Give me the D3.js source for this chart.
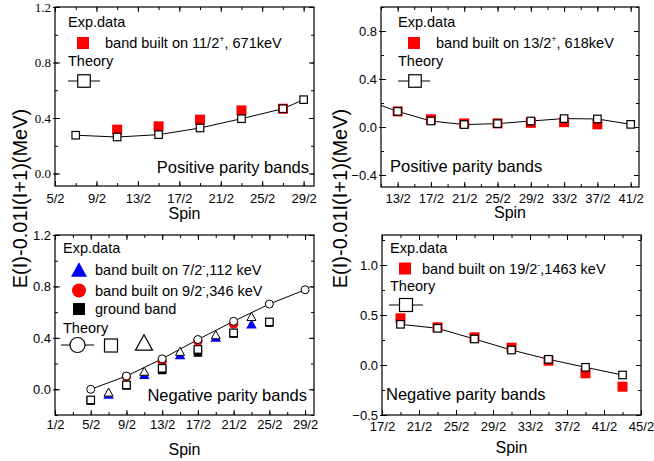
<!DOCTYPE html>
<html>
<head>
<meta charset="utf-8">
<script src="https://cdn.jsdelivr.net/npm/d3@7/dist/d3.min.js"></script>
<style>
body { margin: 0; background: #fff; }
</style>
</head>
<body>
<div id="chart"></div>
<script>
// ---- panel 1 : positive parity, band on 11/2+
var p1TheorySpin = [3.5, 5.5, 7.5, 9.5, 11.5, 13.5, 14.5];
var p1TheoryE = [0.276, 0.263, 0.28, 0.328, 0.395, 0.467, 0.532];
var p1ExpSpin = [5.5, 7.5, 9.5, 11.5, 13.5];
var p1ExpE = [0.316, 0.34, 0.388, 0.455, 0.467];
var p1XTicks = [2.5, 4.5, 6.5, 8.5, 10.5, 12.5, 14.5];
var p1YTicks = [0, 0.4, 0.8, 1.2];

// ---- panel 2 : positive parity, band on 13/2+
var p2TheorySpin = [4.5, 6.5, 8.5, 10.5, 12.5, 14.5, 16.5, 18.5, 20.5];
var p2TheoryE = [0.23, 0.13, 0.05, 0.02, 0.028, 0.05, 0.07, 0.067, 0.022];
var p2ExpSpin = [6.5, 8.5, 10.5, 12.5, 14.5, 16.5, 18.5];
var p2ExpE = [0.13, 0.064, 0.03, 0.03, 0.035, 0.04, 0.022];
var p2XTicks = [6.5, 8.5, 10.5, 12.5, 14.5, 16.5, 18.5, 20.5];
var p2YTicks = [-0.4, 0, 0.4, 0.8];

// ---- panel 3 : negative parity bands
var p3CircSpin = [2.5, 4.5, 6.5, 8.5, 10.5, 12.5, 14.5];
var p3CircTheory = [0.0, 0.103, 0.237, 0.387, 0.529, 0.663, 0.774];
var p3CircExpSpin = [4.5, 6.5, 8.5, 10.5];
var p3CircExp = [0.098, 0.219, 0.374, 0.508];
var p3TriSpin = [3.5, 5.5, 7.5, 9.5, 11.5];
var p3TriTheory = [-0.028, 0.134, 0.289, 0.418, 0.56];
var p3TriExp = [-0.045, 0.11, 0.263, 0.4, 0.503];
var p3SqSpin = [2.5, 4.5, 6.5, 8.5, 10.5, 12.5];
var p3SqTheory = [-0.083, 0.034, 0.163, 0.31, 0.439, 0.524];
var p3SqExp = [-0.088, 0.03, 0.15, 0.286, 0.433, 0.519];
var p3XTicks = [0.5, 2.5, 4.5, 6.5, 8.5, 10.5, 12.5, 14.5];
var p3YTicks = [0, 0.4, 0.8, 1.2];

// ---- panel 4 : negative parity, band on 19/2-
var p4Spin = [9.5, 11.5, 13.5, 15.5, 17.5, 19.5, 21.5];
var p4TheoryE = [0.407, 0.367, 0.26, 0.15, 0.057, -0.023, -0.1];
var p4ExpE = [0.467, 0.377, 0.277, 0.173, 0.043, -0.083, -0.217];
var p4XTicks = [8.5, 10.5, 12.5, 14.5, 16.5, 18.5, 20.5, 22.5];
var p4YTicks = [-0.5, 0, 0.5, 1.0];

var w = 654, h = 461;
var RED = "#ff0000", BLUE = "#0000ff";

var svg = d3.select("#chart").append("svg")
    .attr("width", w)
    .attr("height", h)
    .style("font-family", "'Liberation Sans', Arial, sans-serif");

function frac(d) { return Math.round(d * 2) + "/2"; }

// draw one marker
function marker(g, shape, cx, cy, s, fill, stroke, sw) {
    var m;
    if (shape === "square") {
        m = g.append("rect").attr("x", cx - s / 2).attr("y", cy - s / 2)
            .attr("width", s).attr("height", s);
    } else if (shape === "circle") {
        m = g.append("circle").attr("cx", cx).attr("cy", cy).attr("r", s / 2);
    } else {
        var th = s * 0.9;
        m = g.append("path").attr("d", "M" + cx + "," + (cy - th * 0.6) +
            "L" + (cx + s / 2) + "," + (cy + th * 0.4) +
            "L" + (cx - s / 2) + "," + (cy + th * 0.4) + "Z");
    }
    m.attr("fill", fill).attr("stroke", stroke || "none").attr("stroke-width", sw || 0);
    return m;
}

function panel(cfg) {
    var g = svg.append("g");
    var x = d3.scaleLinear().domain(cfg.xDomain).range([cfg.left, cfg.right]);
    var y = d3.scaleLinear().domain(cfg.yDomain).range([cfg.bottom, cfg.top]);

    // minor ticks, every spin unit / half y step
    var xMinor = d3.range(cfg.xDomain[0], cfg.xDomain[1] + 0.001, 1);
    var yStep = cfg.yTicks[1] - cfg.yTicks[0];
    var yMinor = d3.range(cfg.yTicks[0] - yStep, cfg.yDomain[1] + 0.001, yStep / 2)
        .filter(function(d) { return d >= cfg.yDomain[0] - 1e-6 && d <= cfg.yDomain[1] + 1e-6; });

    function minorAxis(axis, tr) {
        g.append("g").attr("transform", tr)
            .call(axis.tickSize(-3).tickFormat(""))
            .call(function(s) { s.select(".domain").remove(); });
    }
    minorAxis(d3.axisBottom(x).tickValues(xMinor), "translate(0," + cfg.bottom + ")");
    minorAxis(d3.axisTop(x).tickValues(xMinor), "translate(0," + cfg.top + ")");
    minorAxis(d3.axisLeft(y).tickValues(yMinor), "translate(" + cfg.left + ",0)");
    minorAxis(d3.axisRight(y).tickValues(yMinor), "translate(" + cfg.right + ",0)");

    // major ticks + labels
    var xAxis = d3.axisBottom(x).tickValues(cfg.xTicks).tickFormat(frac)
        .tickSize(-5).tickPadding(cfg.xPad);
    var gx = g.append("g").attr("transform", "translate(0," + cfg.bottom + ")").call(xAxis);
    gx.select(".domain").remove();
    gx.selectAll("text").attr("font-size", 13).attr("fill", "#000")
        .style("font-family", "'Liberation Sans', Arial, sans-serif");

    var yAxis = d3.axisLeft(y).tickValues(cfg.yTicks).tickFormat(d3.format(".1f"))
        .tickSize(-5).tickPadding(4);
    var gy = g.append("g").attr("transform", "translate(" + cfg.left + ",0)").call(yAxis);
    gy.select(".domain").remove();
    gy.selectAll("text").attr("font-size", 13).attr("fill", "#000")
        .style("font-family", cfg.serifY ? "'Liberation Serif', 'Times New Roman', serif"
                                         : "'Liberation Sans', Arial, sans-serif");
    gy.selectAll("line").attr("x1", -2);

    g.append("g").attr("transform", "translate(0," + cfg.top + ")")
        .call(d3.axisTop(x).tickValues(cfg.xTicks).tickSize(-5).tickFormat(""))
        .select(".domain").remove();
    g.append("g").attr("transform", "translate(" + cfg.right + ",0)")
        .call(d3.axisRight(y).tickValues(cfg.yTicks).tickSize(-5).tickFormat(""))
        .select(".domain").remove();

    // frame
    g.append("rect")
        .attr("x", cfg.left).attr("y", cfg.top)
        .attr("width", cfg.right - cfg.left).attr("height", cfg.bottom - cfg.top)
        .attr("fill", "none").attr("stroke", "#000").attr("stroke-width", 1.2);

    // clip area
    svg.append("clipPath").attr("id", cfg.id)
        .append("rect")
        .attr("x", cfg.left).attr("y", cfg.top)
        .attr("width", cfg.right - cfg.left).attr("height", cfg.bottom - cfg.top);
    var plot = g.append("g").attr("clip-path", "url(#" + cfg.id + ")");

    // Spin title
    g.append("text")
        .attr("x", (cfg.left + cfg.right) / 2).attr("y", cfg.bottom + cfg.titleDy)
        .attr("text-anchor", "middle").attr("font-size", 16)
        .text("Spin");

    // band annotation
    g.append("text")
        .attr("x", cfg.noteX).attr("y", cfg.noteY)
        .attr("text-anchor", cfg.noteAnchor).attr("font-size", 16.5)
        .text(cfg.note);

    return { g: g, plot: plot, x: x, y: y };
}

function legendLabel(g, lx, ly, pre, sup, post) {
    var t = g.append("text").attr("x", lx).attr("y", ly).attr("font-size", 14.5);
    t.append("tspan").text(pre);
    t.append("tspan").attr("font-size", 9).attr("dy", -6).text(sup);
    t.append("tspan").attr("dy", 6).text(post);
}

function theoryLine(plot, x, y, spins, vals) {
    var line = d3.line()
        .x(function(d, i) { return x(spins[i]); })
        .y(function(d) { return y(d); });
    plot.append("path").datum(vals)
        .attr("d", line)
        .attr("fill", "none").attr("stroke", "#000").attr("stroke-width", 1);
}

// ================= panel 1
var P1 = panel({
    id: "c1", left: 55, right: 314, top: 7, bottom: 186,
    xDomain: [2.5, 15], yDomain: [-0.09, 1.2],
    xTicks: p1XTicks, yTicks: p1YTicks, xPad: 7.5, titleDy: 33, serifY: true,
    note: "Positive parity bands", noteX: 309, noteY: 173, noteAnchor: "end"
});
theoryLine(P1.plot, P1.x, P1.y, p1TheorySpin, p1TheoryE);
p1ExpE.forEach(function(v, i) {
    marker(P1.plot, "square", P1.x(p1ExpSpin[i]), P1.y(v), 10, RED);
});
p1TheoryE.forEach(function(v, i) {
    marker(P1.plot, "square", P1.x(p1TheorySpin[i]), P1.y(v), 7.5, "#fff", "#000", 1.2);
});
P1.g.append("text").attr("x", 68).attr("y", 27).attr("font-size", 14.5).text("Exp.data");
marker(P1.g, "square", 83, 43, 12, RED);
legendLabel(P1.g, 105, 48, "band built on 11/2", "+", ", 671keV");
P1.g.append("text").attr("x", 68).attr("y", 66).attr("font-size", 14.5).text("Theory");
P1.g.append("line").attr("x1", 68).attr("x2", 100).attr("y1", 81).attr("y2", 81)
    .attr("stroke", "#000").attr("stroke-width", 1);
marker(P1.g, "square", 84, 81, 12.5, "#fff", "#000", 1.2);

// ================= panel 2
var P2 = panel({
    id: "c2", left: 381, right: 639, top: 7, bottom: 187,
    xDomain: [5.5, 21], yDomain: [-0.5, 1.0],
    xTicks: p2XTicks, yTicks: p2YTicks, xPad: 6.5, titleDy: 31,
    note: "Positive parity bands", noteX: 390, noteY: 172, noteAnchor: "start"
});
theoryLine(P2.plot, P2.x, P2.y, p2TheorySpin, p2TheoryE);
p2ExpE.forEach(function(v, i) {
    marker(P2.plot, "square", P2.x(p2ExpSpin[i]), P2.y(v), 10, RED);
});
p2TheoryE.forEach(function(v, i) {
    marker(P2.plot, "square", P2.x(p2TheorySpin[i]), P2.y(v), 7.5, "#fff", "#000", 1.2);
});
P2.g.append("text").attr("x", 398).attr("y", 27).attr("font-size", 14.5).text("Exp.data");
marker(P2.g, "square", 414, 43, 12, RED);
legendLabel(P2.g, 436, 48, "band built on 13/2", "+", ", 618keV");
P2.g.append("text").attr("x", 398).attr("y", 66).attr("font-size", 14.5).text("Theory");
P2.g.append("line").attr("x1", 398).attr("x2", 430).attr("y1", 81).attr("y2", 81)
    .attr("stroke", "#000").attr("stroke-width", 1);
marker(P2.g, "square", 415, 81, 12.5, "#fff", "#000", 1.2);

// ================= panel 3
var P3 = panel({
    id: "c3", left: 55, right: 314, top: 235, bottom: 415,
    xDomain: [0.5, 15], yDomain: [-0.2, 1.2],
    xTicks: p3XTicks, yTicks: p3YTicks, xPad: 5, titleDy: 40,
    note: "Negative parity bands", noteX: 307, noteY: 401, noteAnchor: "end"
});
theoryLine(P3.plot, P3.x, P3.y, p3CircSpin, p3CircTheory);
p3SqExp.forEach(function(v, i) {
    marker(P3.plot, "square", P3.x(p3SqSpin[i]), P3.y(v), 8.5, "#000");
});
p3TriExp.forEach(function(v, i) {
    marker(P3.plot, "triangle", P3.x(p3TriSpin[i]), P3.y(v), 10.5, BLUE);
});
p3CircExp.forEach(function(v, i) {
    marker(P3.plot, "circle", P3.x(p3CircExpSpin[i]), P3.y(v), 9.5, RED);
});
p3SqTheory.forEach(function(v, i) {
    marker(P3.plot, "square", P3.x(p3SqSpin[i]), P3.y(v), 7.5, "#fff", "#000", 1.2);
});
p3TriTheory.forEach(function(v, i) {
    marker(P3.plot, "triangle", P3.x(p3TriSpin[i]), P3.y(v), 9, "#fff", "#000", 1);
});
p3CircTheory.forEach(function(v, i) {
    marker(P3.plot, "circle", P3.x(p3CircSpin[i]), P3.y(v), 8, "#fff", "#000", 1);
});
P3.g.append("text").attr("x", 63).attr("y", 253).attr("font-size", 14.5).text("Exp.data");
marker(P3.g, "triangle", 79, 271, 16, BLUE);
legendLabel(P3.g, 95, 275, "band built on 7/2", "-", ",112 keV");
marker(P3.g, "circle", 79, 290.5, 14, RED);
legendLabel(P3.g, 95, 296, "band built on 9/2", "-", ",346 keV");
marker(P3.g, "square", 79, 309, 12, "#000");
P3.g.append("text").attr("x", 95).attr("y", 314).attr("font-size", 14.5).text("ground band");
P3.g.append("text").attr("x", 63).attr("y", 333).attr("font-size", 14.5).text("Theory");
P3.g.append("line").attr("x1", 61).attr("x2", 94).attr("y1", 345).attr("y2", 345)
    .attr("stroke", "#000").attr("stroke-width", 1);
marker(P3.g, "circle", 77.5, 345, 15, "#fff", "#000", 1.2);
marker(P3.g, "square", 111, 345.5, 13, "#fff", "#000", 1.2);
marker(P3.g, "triangle", 144, 344, 17, "#fff", "#000", 1.2);

// ================= panel 4
var P4 = panel({
    id: "c4", left: 382, right: 641, top: 235, bottom: 415,
    xDomain: [8.5, 22.5], yDomain: [-0.5, 1.3],
    xTicks: p4XTicks, yTicks: p4YTicks, xPad: 7, titleDy: 38,
    note: "Negative parity bands", noteX: 386, noteY: 400, noteAnchor: "start"
});
theoryLine(P4.plot, P4.x, P4.y, p4Spin, p4TheoryE);
p4ExpE.forEach(function(v, i) {
    marker(P4.plot, "square", P4.x(p4Spin[i]), P4.y(v), 10, RED);
});
p4TheoryE.forEach(function(v, i) {
    marker(P4.plot, "square", P4.x(p4Spin[i]), P4.y(v), 7.5, "#fff", "#000", 1.2);
});
P4.g.append("text").attr("x", 390).attr("y", 253).attr("font-size", 14.5).text("Exp.data");
marker(P4.g, "square", 405, 268.5, 12, RED);
legendLabel(P4.g, 422, 274, "band built on 19/2", "-", ",1463 keV");
P4.g.append("text").attr("x", 390).attr("y", 291).attr("font-size", 14.5).text("Theory");
P4.g.append("line").attr("x1", 389).attr("x2", 423).attr("y1", 305).attr("y2", 305)
    .attr("stroke", "#000").attr("stroke-width", 1);
marker(P4.g, "square", 406, 305, 13, "#fff", "#000", 1.2);

// ================= shared y titles
[27, 347].forEach(function(bx) {
    svg.append("text")
        .attr("transform", "translate(" + bx + ",198.5) rotate(-90)")
        .attr("text-anchor", "middle")
        .attr("font-size", 20)
        .text("E(I)-0.01I(I+1)(MeV)");
});
</script>
</body>
</html>
